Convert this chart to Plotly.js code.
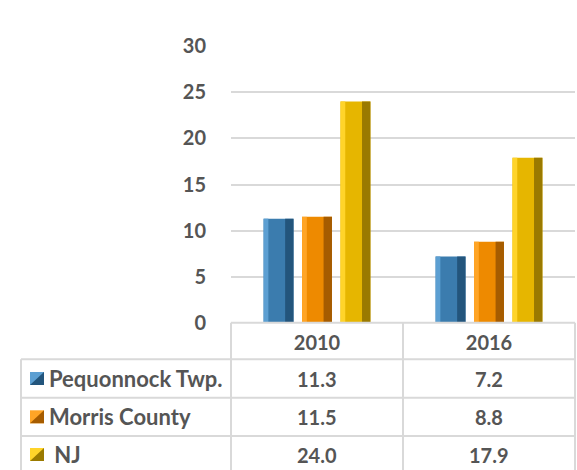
<!DOCTYPE html>
<html>
<head>
<meta charset="utf-8">
<script src="https://cdn.plot.ly/plotly-3.0.1.min.js"></script>
<style>html,body{margin:0;padding:0;background:#fff;}#chart{width:577px;height:470px;}</style>
</head>
<body>
<div id="chart"></div>
<script>
// ---- data ----
var years = ["2010", "2016"];
var seriesNames = ["Pequonnock Twp.", "Morris County", " NJ"];
var pequonnock = [11.3, 7.2];
var morris = [11.5, 8.8];
var nj = [24.0, 17.9];
var yTicks = [0, 5, 10, 15, 20, 25, 30];

// ---- styles ----
var seriesValues = [pequonnock, morris, nj];
var mainColors = ["#3b7cae", "#ee8a00", "#e6b600"];
var lightColors = ["#5c9fd2", "#ffa526", "#ffd42a"];
var darkColors = ["#23557c", "#a65c00", "#9a7a00"];
var textColor = "#555555";
var gridColor = "#d9d9d9";
var FONT = "Lato, 'Open Sans', sans-serif";

var W = 577, H = 470;
var L = 231, R = 2, T = 46, B = 147;
var plotW = W - L - R, plotH = H - T - B;
function px2x(px) { return (px - L) / plotW; }
function py2y(py) { return (H - B - py) / plotH; }

var centers = [-0.2235, 0, 0.2235];
var bw = 0.174;

var traces = [];
for (var i = 0; i < 3; i++) {
  var off = centers[i] - bw / 2;
  traces.push({
    type: "bar", x: years, y: seriesValues[i], name: seriesNames[i],
    offset: off, width: bw, marker: {color: mainColors[i], line: {width: 0}},
    showlegend: false, hoverinfo: "x+y+name"
  });
  traces.push({
    type: "bar", x: years, y: seriesValues[i], name: seriesNames[i],
    offset: off, width: bw * 0.16, marker: {color: lightColors[i], line: {width: 0}},
    showlegend: false, hoverinfo: "skip"
  });
  traces.push({
    type: "bar", x: years, y: seriesValues[i], name: seriesNames[i],
    offset: off + bw * 0.72, width: bw * 0.28, marker: {color: darkColors[i], line: {width: 0}},
    showlegend: false, hoverinfo: "skip"
  });
}

// ---- table ----
var shapes = [];
var annotations = [];
var lineStyle = {color: gridColor, width: 2};
var rowLines = [359.3, 397.7, 436];
var tableLeft = 21, tableTop = 322.7, tableBottom = 480;
var colLines = [231, 403, 575];
shapes.push({type: "line", xref: "paper", yref: "paper", x0: px2x(231), x1: px2x(575), y0: py2y(tableTop), y1: py2y(tableTop), line: lineStyle});
rowLines.forEach(function (py) {
  shapes.push({type: "line", xref: "paper", yref: "paper", x0: px2x(tableLeft), x1: px2x(575), y0: py2y(py), y1: py2y(py), line: lineStyle});
});
colLines.forEach(function (px) {
  shapes.push({type: "line", xref: "paper", yref: "paper", x0: px2x(px), x1: px2x(px), y0: py2y(tableTop), y1: py2y(tableBottom), line: lineStyle});
});
shapes.push({type: "line", xref: "paper", yref: "paper", x0: px2x(tableLeft), x1: px2x(tableLeft), y0: py2y(rowLines[0]), y1: py2y(tableBottom), line: lineStyle});

var rowCenters = [378.5, 416.8, 454.5];
var colCenters = [317, 489];
for (var r = 0; r < 3; r++) {
  var cy = rowCenters[r];
  // legend key
  var kx0 = 30, kx1 = 44, ky0 = cy - 6.5, ky1 = cy + 6.5;
  shapes.push({type: "rect", xref: "paper", yref: "paper", x0: px2x(kx0), x1: px2x(kx1), y0: py2y(ky1), y1: py2y(ky0), fillcolor: lightColors[r], line: {width: 0}});
  shapes.push({type: "path", xref: "paper", yref: "paper",
    path: "M " + px2x(kx1) + " " + py2y(ky0) + " L " + px2x(kx1) + " " + py2y(ky1) + " L " + px2x(kx0) + " " + py2y(ky1) + " Z",
    fillcolor: darkColors[r], line: {width: 0}});
  annotations.push({xref: "paper", yref: "paper", x: px2x(47), y: py2y(cy), xanchor: "left", yanchor: "middle",
    text: "<b>" + seriesNames[r] + "</b>", showarrow: false, font: {family: FONT, size: 22, color: textColor}});
  for (var c = 0; c < 2; c++) {
    annotations.push({xref: "paper", yref: "paper", x: px2x(colCenters[c]), y: py2y(cy), xanchor: "center", yanchor: "middle",
      text: "<b>" + seriesValues[r][c].toFixed(1) + "</b>", showarrow: false, font: {family: FONT, size: 20, color: textColor}});
  }
}

var layout = {
  width: W, height: H,
  margin: {l: L, r: R, t: T, b: B, pad: 0},
  paper_bgcolor: "#ffffff", plot_bgcolor: "#ffffff",
  barmode: "overlay",
  showlegend: false,
  font: {family: FONT, color: textColor},
  xaxis: {
    type: "category", categoryorder: "array", categoryarray: years,
    tickvals: years, ticktext: years.map(function (y) { return "<b>" + y + "</b>"; }),
    tickfont: {family: FONT, size: 20, color: textColor},
    showgrid: false, zeroline: false, showline: false,
    ticks: "outside", ticklen: 2, tickcolor: "rgba(0,0,0,0)", fixedrange: true
  },
  yaxis: {
    range: [0, 30], tickvals: yTicks, ticktext: yTicks.map(function (v) { return "<b>" + v + "</b>"; }),
    tickfont: {family: FONT, size: 20, color: textColor},
    showgrid: true, gridcolor: gridColor, gridwidth: 2,
    zeroline: false, showline: false,
    ticks: "outside", ticklen: 20, tickcolor: "rgba(0,0,0,0)", fixedrange: true
  },
  shapes: shapes,
  annotations: annotations
};

Plotly.newPlot("chart", traces, layout, {displayModeBar: false, staticPlot: true});
</script>
</body>
</html>
